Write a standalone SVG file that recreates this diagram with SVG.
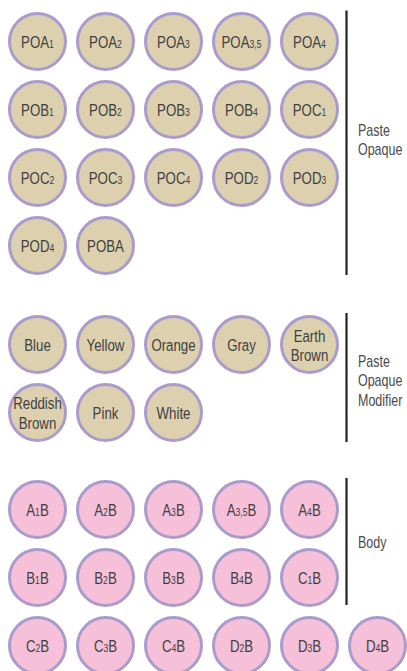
<svg xmlns="http://www.w3.org/2000/svg" width="407" height="671" viewBox="0 0 407 671">
<style>
.tan{fill:#ddd0ae;stroke:#a99ccd;stroke-width:3}
.pink{fill:#f6c0d8;stroke:#a99ccd;stroke-width:3}
.lbl{font-family:"Liberation Sans",Arial,sans-serif;font-size:17px;fill:#3f3f3f;text-anchor:middle}
.sub{font-size:11px}
.side{font-family:"Liberation Sans",Arial,sans-serif;font-size:16px;fill:#4a4a4a}
.bar{stroke:#222222;stroke-width:2.2}
</style>
<rect width="407" height="671" fill="#ffffff"/>
<g id="connectors">
<line class="bar" x1="346.5" y1="10.5" x2="346.5" y2="275"/>
<line class="bar" x1="346.5" y1="313" x2="346.5" y2="442"/>
<line class="bar" x1="346.5" y1="478" x2="346.5" y2="605"/>
</g>
<g id="labels">
<text class="side" transform="translate(358 136) scale(0.78 1)"><tspan x="0" y="0">Paste</tspan><tspan x="0" y="19.5">Opaque</tspan></text>
<text class="side" transform="translate(358 366.5) scale(0.78 1)"><tspan x="0" y="0">Paste</tspan><tspan x="0" y="20">Opaque</tspan><tspan x="0" y="40">Modifier</tspan></text>
<text class="side" transform="translate(358 548) scale(0.78 1)">Body</text>
</g>
<g id="POA1"><circle class="tan" cx="37.5" cy="41.5" r="28"/><text class="lbl" transform="translate(37.5 41.5) scale(0.78 1)" y="6">POA<tspan class="sub">1</tspan></text></g>
<g id="POA2"><circle class="tan" cx="105.5" cy="41.5" r="28"/><text class="lbl" transform="translate(105.5 41.5) scale(0.78 1)" y="6">POA<tspan class="sub">2</tspan></text></g>
<g id="POA3"><circle class="tan" cx="173.5" cy="41.5" r="28"/><text class="lbl" transform="translate(173.5 41.5) scale(0.78 1)" y="6">POA<tspan class="sub">3</tspan></text></g>
<g id="POA35"><circle class="tan" cx="241.5" cy="41.5" r="28"/><text class="lbl" transform="translate(241.5 41.5) scale(0.78 1)" y="6">POA<tspan class="sub">3,5</tspan></text></g>
<g id="POA4"><circle class="tan" cx="309.5" cy="41.5" r="28"/><text class="lbl" transform="translate(309.5 41.5) scale(0.78 1)" y="6">POA<tspan class="sub">4</tspan></text></g>
<g id="POB1"><circle class="tan" cx="37.5" cy="109.5" r="28"/><text class="lbl" transform="translate(37.5 109.5) scale(0.78 1)" y="6">POB<tspan class="sub">1</tspan></text></g>
<g id="POB2"><circle class="tan" cx="105.5" cy="109.5" r="28"/><text class="lbl" transform="translate(105.5 109.5) scale(0.78 1)" y="6">POB<tspan class="sub">2</tspan></text></g>
<g id="POB3"><circle class="tan" cx="173.5" cy="109.5" r="28"/><text class="lbl" transform="translate(173.5 109.5) scale(0.78 1)" y="6">POB<tspan class="sub">3</tspan></text></g>
<g id="POB4"><circle class="tan" cx="241.5" cy="109.5" r="28"/><text class="lbl" transform="translate(241.5 109.5) scale(0.78 1)" y="6">POB<tspan class="sub">4</tspan></text></g>
<g id="POC1"><circle class="tan" cx="309.5" cy="109.5" r="28"/><text class="lbl" transform="translate(309.5 109.5) scale(0.78 1)" y="6">POC<tspan class="sub">1</tspan></text></g>
<g id="POC2"><circle class="tan" cx="37.5" cy="177.5" r="28"/><text class="lbl" transform="translate(37.5 177.5) scale(0.78 1)" y="6">POC<tspan class="sub">2</tspan></text></g>
<g id="POC3"><circle class="tan" cx="105.5" cy="177.5" r="28"/><text class="lbl" transform="translate(105.5 177.5) scale(0.78 1)" y="6">POC<tspan class="sub">3</tspan></text></g>
<g id="POC4"><circle class="tan" cx="173.5" cy="177.5" r="28"/><text class="lbl" transform="translate(173.5 177.5) scale(0.78 1)" y="6">POC<tspan class="sub">4</tspan></text></g>
<g id="POD2"><circle class="tan" cx="241.5" cy="177.5" r="28"/><text class="lbl" transform="translate(241.5 177.5) scale(0.78 1)" y="6">POD<tspan class="sub">2</tspan></text></g>
<g id="POD3"><circle class="tan" cx="309.5" cy="177.5" r="28"/><text class="lbl" transform="translate(309.5 177.5) scale(0.78 1)" y="6">POD<tspan class="sub">3</tspan></text></g>
<g id="POD4"><circle class="tan" cx="37.5" cy="245.5" r="28"/><text class="lbl" transform="translate(37.5 245.5) scale(0.78 1)" y="6">POD<tspan class="sub">4</tspan></text></g>
<g id="POBA"><circle class="tan" cx="105.5" cy="245.5" r="28"/><text class="lbl" transform="translate(105.5 245.5) scale(0.78 1)" y="6">POBA</text></g>
<g id="Blue"><circle class="tan" cx="37.5" cy="344.5" r="28"/><text class="lbl" transform="translate(37.5 344.5) scale(0.78 1)" y="6">Blue</text></g>
<g id="Yellow"><circle class="tan" cx="105.5" cy="344.5" r="28"/><text class="lbl" transform="translate(105.5 344.5) scale(0.78 1)" y="6">Yellow</text></g>
<g id="Orange"><circle class="tan" cx="173.5" cy="344.5" r="28"/><text class="lbl" transform="translate(173.5 344.5) scale(0.78 1)" y="6">Orange</text></g>
<g id="Gray"><circle class="tan" cx="241.5" cy="344.5" r="28"/><text class="lbl" transform="translate(241.5 344.5) scale(0.78 1)" y="6">Gray</text></g>
<g id="EarthBrown"><circle class="tan" cx="309.5" cy="344.5" r="28"/><text class="lbl" transform="translate(309.5 344.5) scale(0.78 1)"><tspan x="0" y="-3">Earth</tspan><tspan x="0" y="16.5">Brown</tspan></text></g>
<g id="ReddishBrown"><circle class="tan" cx="37.5" cy="412.5" r="28"/><text class="lbl" transform="translate(37.5 412.5) scale(0.78 1)"><tspan x="0" y="-3.5">Reddish</tspan><tspan x="0" y="16.5">Brown</tspan></text></g>
<g id="Pink"><circle class="tan" cx="105.5" cy="412.5" r="28"/><text class="lbl" transform="translate(105.5 412.5) scale(0.78 1)" y="6">Pink</text></g>
<g id="White"><circle class="tan" cx="173.5" cy="412.5" r="28"/><text class="lbl" transform="translate(173.5 412.5) scale(0.78 1)" y="6">White</text></g>
<g id="A1B"><circle class="pink" cx="37.5" cy="509.5" r="28"/><text class="lbl" transform="translate(37.5 509.5) scale(0.78 1)" y="6">A<tspan class="sub">1</tspan>B</text></g>
<g id="A2B"><circle class="pink" cx="105.5" cy="509.5" r="28"/><text class="lbl" transform="translate(105.5 509.5) scale(0.78 1)" y="6">A<tspan class="sub">2</tspan>B</text></g>
<g id="A3B"><circle class="pink" cx="173.5" cy="509.5" r="28"/><text class="lbl" transform="translate(173.5 509.5) scale(0.78 1)" y="6">A<tspan class="sub">3</tspan>B</text></g>
<g id="A35B"><circle class="pink" cx="241.5" cy="509.5" r="28"/><text class="lbl" transform="translate(241.5 509.5) scale(0.78 1)" y="6">A<tspan class="sub">3,5</tspan>B</text></g>
<g id="A4B"><circle class="pink" cx="309.5" cy="509.5" r="28"/><text class="lbl" transform="translate(309.5 509.5) scale(0.78 1)" y="6">A<tspan class="sub">4</tspan>B</text></g>
<g id="B1B"><circle class="pink" cx="37.5" cy="577.5" r="28"/><text class="lbl" transform="translate(37.5 577.5) scale(0.78 1)" y="6">B<tspan class="sub">1</tspan>B</text></g>
<g id="B2B"><circle class="pink" cx="105.5" cy="577.5" r="28"/><text class="lbl" transform="translate(105.5 577.5) scale(0.78 1)" y="6">B<tspan class="sub">2</tspan>B</text></g>
<g id="B3B"><circle class="pink" cx="173.5" cy="577.5" r="28"/><text class="lbl" transform="translate(173.5 577.5) scale(0.78 1)" y="6">B<tspan class="sub">3</tspan>B</text></g>
<g id="B4B"><circle class="pink" cx="241.5" cy="577.5" r="28"/><text class="lbl" transform="translate(241.5 577.5) scale(0.78 1)" y="6">B<tspan class="sub">4</tspan>B</text></g>
<g id="C1B"><circle class="pink" cx="309.5" cy="577.5" r="28"/><text class="lbl" transform="translate(309.5 577.5) scale(0.78 1)" y="6">C<tspan class="sub">1</tspan>B</text></g>
<g id="C2B"><circle class="pink" cx="37.5" cy="645.5" r="28"/><text class="lbl" transform="translate(37.5 645.5) scale(0.78 1)" y="6">C<tspan class="sub">2</tspan>B</text></g>
<g id="C3B"><circle class="pink" cx="105.5" cy="645.5" r="28"/><text class="lbl" transform="translate(105.5 645.5) scale(0.78 1)" y="6">C<tspan class="sub">3</tspan>B</text></g>
<g id="C4B"><circle class="pink" cx="173.5" cy="645.5" r="28"/><text class="lbl" transform="translate(173.5 645.5) scale(0.78 1)" y="6">C<tspan class="sub">4</tspan>B</text></g>
<g id="D2B"><circle class="pink" cx="241.5" cy="645.5" r="28"/><text class="lbl" transform="translate(241.5 645.5) scale(0.78 1)" y="6">D<tspan class="sub">2</tspan>B</text></g>
<g id="D3B"><circle class="pink" cx="309.5" cy="645.5" r="28"/><text class="lbl" transform="translate(309.5 645.5) scale(0.78 1)" y="6">D<tspan class="sub">3</tspan>B</text></g>
<g id="D4B"><circle class="pink" cx="377.5" cy="645.5" r="28"/><text class="lbl" transform="translate(377.5 645.5) scale(0.78 1)" y="6">D<tspan class="sub">4</tspan>B</text></g>
</svg>
